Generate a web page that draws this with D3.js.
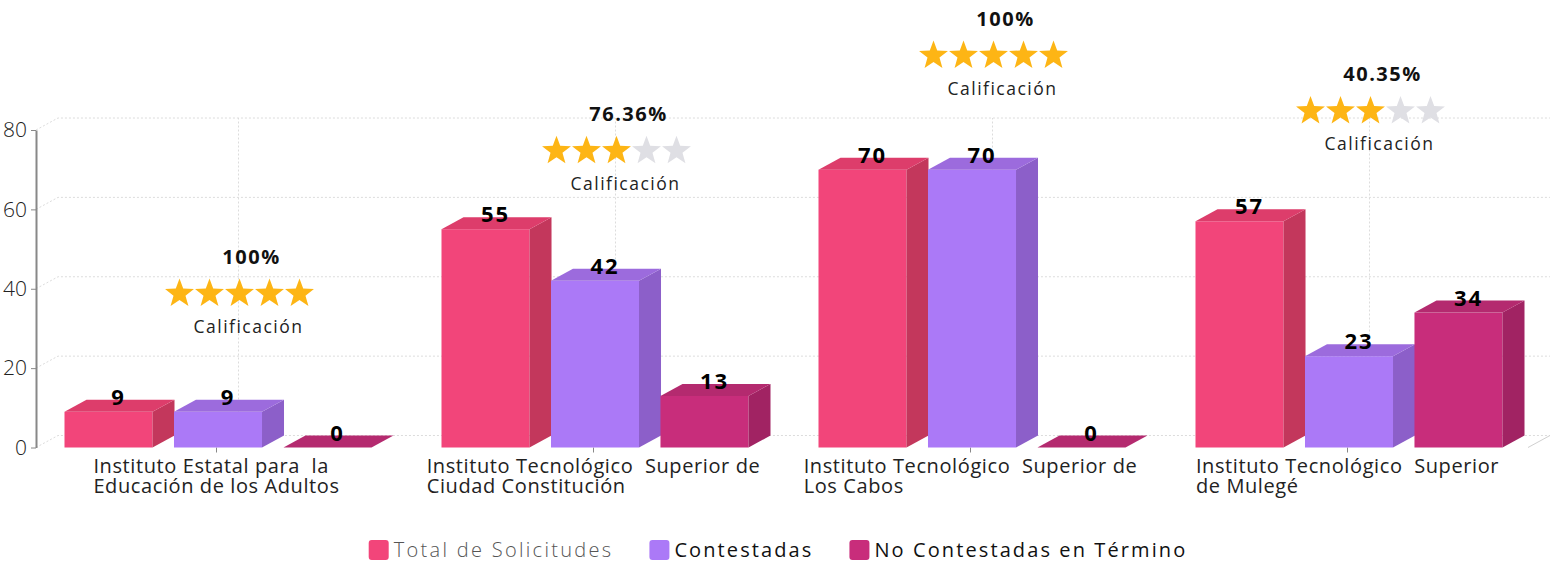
<!DOCTYPE html>
<html>
<head>
<meta charset="utf-8">
<script src="https://cdn.jsdelivr.net/npm/d3@7"></script>
<style>
  body { margin: 0; background: #fff; }
  svg { display: block; font-family: "Open Sans", sans-serif; }
</style>
</head>
<body>
<svg id="chart" width="1556" height="562"></svg>
<script>
// data
var categories = [
  ["Instituto Estatal para  la", "Educación de los Adultos"],
  ["Instituto Tecnológico  Superior de", "Ciudad Constitución"],
  ["Instituto Tecnológico  Superior de", "Los Cabos"],
  ["Instituto Tecnológico  Superior", "de Mulegé"]
];
var series = ["Total de Solicitudes", "Contestadas", "No Contestadas en Término"];
var totalSolicitudes = [9, 55, 70, 57];
var contestadas = [9, 42, 70, 23];
var noContestadas = [0, 13, 0, 34];
var calificacion = ["100%", "76.36%", "100%", "40.35%"];
var estrellas = [5, 3, 5, 3];
// value on the y axis where each rating badge sits
var nivelCalificacion = [39, 75, 99, 85];
var yTicks = [0, 20, 40, 60, 80];

var colors = [
  { front: "#f2457a", side: "#c3375c", top: "#dd3d6b" },
  { front: "#ab79f7", side: "#8c5fc9", top: "#9c6bdd" },
  { front: "#c82d7b", side: "#a12363", top: "#b42a6f" }
];

var values = [totalSolicitudes, contestadas, noContestadas];
var dx = 22, dy = -12;
var axisX = 36, plotRight = 1528;

var svg = d3.select("#chart");

var x0 = d3.scaleBand().domain(d3.range(categories.length)).range([28, 1536]);
var x1 = d3.scaleBand().domain(series).range([36.5, 343.5]).paddingInner(0.196);
var y = d3.scaleLinear().domain([0, 80]).range([447.5, 130]);

function center(i) { return x0(i) + x0.bandwidth() / 2; }

// grid (back plane)
var grid = svg.append("g").attr("fill", "none").attr("stroke", "#dcdcdc")
  .attr("stroke-dasharray", "2,2");
yTicks.forEach(function(v) {
  grid.append("path").attr("d", d3.line()([
    [axisX, y(v)], [axisX + dx, y(v) + dy], [plotRight + dx, y(v) + dy]
  ]));
});
categories.forEach(function(c, i) {
  grid.append("line")
    .attr("x1", center(i) + dx).attr("x2", center(i) + dx)
    .attr("y1", y(0) + dy).attr("y2", y(80) + dy);
});
svg.append("line")
  .attr("x1", plotRight).attr("y1", y(0))
  .attr("x2", plotRight + dx).attr("y2", y(0) + dy)
  .attr("stroke", "#d0d0d0");

// y axis
var yAxis = svg.append("g")
  .attr("transform", "translate(" + axisX + ",0)")
  .call(d3.axisLeft(y).tickValues(yTicks).tickSize(5).tickSizeOuter(0).tickPadding(4));
yAxis.select(".domain").attr("stroke", "#888").attr("stroke-width", 2);
yAxis.selectAll(".tick line").attr("stroke", "#888");
yAxis.selectAll(".tick text")
  .attr("fill", "#222").attr("font-size", 21).attr("font-weight", 300)
  .attr("font-family", "Open Sans");

// x axis ticks + labels
var xAxis = svg.append("g")
  .attr("transform", "translate(0," + y(0) + ")")
  .call(d3.axisBottom(x0).tickSize(5).tickFormat(""));
xAxis.select(".domain").remove();
xAxis.selectAll(".tick line").attr("stroke", "#888");

// bars
var bars = svg.append("g");
categories.forEach(function(c, i) {
  series.forEach(function(s, j) {
    var v = values[j][i];
    var xf = x0(i) + x1(s), w = x1.bandwidth();
    var yt = y(v), yb = y(0);
    var col = colors[j];
    var g = bars.append("g");
    if (yb - yt > 0) {
      g.append("rect").attr("x", xf).attr("y", yt)
        .attr("width", w).attr("height", yb - yt).attr("fill", col.front);
      g.append("path").attr("fill", col.side).attr("d", d3.line()([
        [xf + w, yt], [xf + w + dx, yt + dy], [xf + w + dx, yb + dy], [xf + w, yb]
      ]) + "Z");
    }
    g.append("path").attr("fill", col.top).attr("d", d3.line()([
      [xf, yt], [xf + dx, yt + dy], [xf + w + dx, yt + dy], [xf + w, yt]
    ]) + "Z");
  });
});

// value labels
categories.forEach(function(c, i) {
  series.forEach(function(s, j) {
    var v = values[j][i];
    svg.append("text")
      .attr("x", x0(i) + x1(s) + x1.bandwidth() / 2 + 10)
      .attr("y", y(v) - 7)
      .attr("text-anchor", "middle")
      .attr("font-size", 22).attr("font-weight", 700)
      .attr("letter-spacing", 2)
      .attr("fill", "#000")
      .text(v);
  });
});

// category labels (block centered on the tick, lines left aligned)
categories.forEach(function(lines, i) {
  var t = svg.append("text")
    .attr("font-size", 20).attr("fill", "#222")
    .attr("letter-spacing", 0.6)
    .attr("xml:space", "preserve");
  lines.forEach(function(l, k) {
    t.append("tspan").attr("y", 473 + k * 20).text(l);
  });
  var wmax = d3.max(t.selectAll("tspan").nodes(), function(n) { return n.getComputedTextLength(); });
  t.selectAll("tspan").attr("x", center(i) - wmax / 2);
});

// ratings
function starPath(cx, cy, ro, ri) {
  var pts = [];
  for (var k = 0; k < 10; k++) {
    var r = k % 2 ? ri : ro;
    var a = -Math.PI / 2 + k * Math.PI / 5;
    pts.push([cx + r * Math.cos(a), cy + r * Math.sin(a)]);
  }
  return d3.line()(pts) + "Z";
}
categories.forEach(function(c, i) {
  var ax = center(i) + 32;
  var sy = y(nivelCalificacion[i]);
  svg.append("text")
    .attr("x", ax + 3).attr("y", sy - 29)
    .attr("text-anchor", "middle")
    .attr("font-size", 20).attr("font-weight", 700).attr("letter-spacing", 1.5)
    .attr("fill", "#111")
    .text(calificacion[i]);
  for (var k = 0; k < 5; k++) {
    svg.append("path")
      .attr("d", starPath(ax - 9 + (k - 2) * 30, sy + 1, 15.2, 6.3))
      .attr("fill", k < estrellas[i] ? "#fdb515" : "#dfdfe4");
  }
  svg.append("text")
    .attr("x", ax).attr("y", sy + 40)
    .attr("text-anchor", "middle")
    .attr("font-size", 17.5).attr("letter-spacing", 1.5)
    .attr("fill", "#222")
    .text("Calificación");
});

// legend
var legend = svg.append("g");
var lx = 0;
series.forEach(function(s, j) {
  var item = legend.append("g").attr("transform", "translate(" + lx + ",0)");
  item.append("rect").attr("x", 0).attr("y", 540).attr("width", 20).attr("height", 20)
    .attr("rx", 3).attr("fill", colors[j].front);
  var t = item.append("text").attr("x", 25).attr("y", 557)
    .attr("font-size", 20).attr("letter-spacing", j === 0 ? 2.3 : 2.1)
    .attr("font-weight", j === 0 ? 300 : 400)
    .attr("fill", j === 0 ? "#555" : "#111")
    .text(s);
  lx += 25 + t.node().getComputedTextLength() + 36;
});
var lw = lx - 36;
legend.attr("transform", "translate(" + (778 - lw / 2) + ",0)");
</script>
</body>
</html>
